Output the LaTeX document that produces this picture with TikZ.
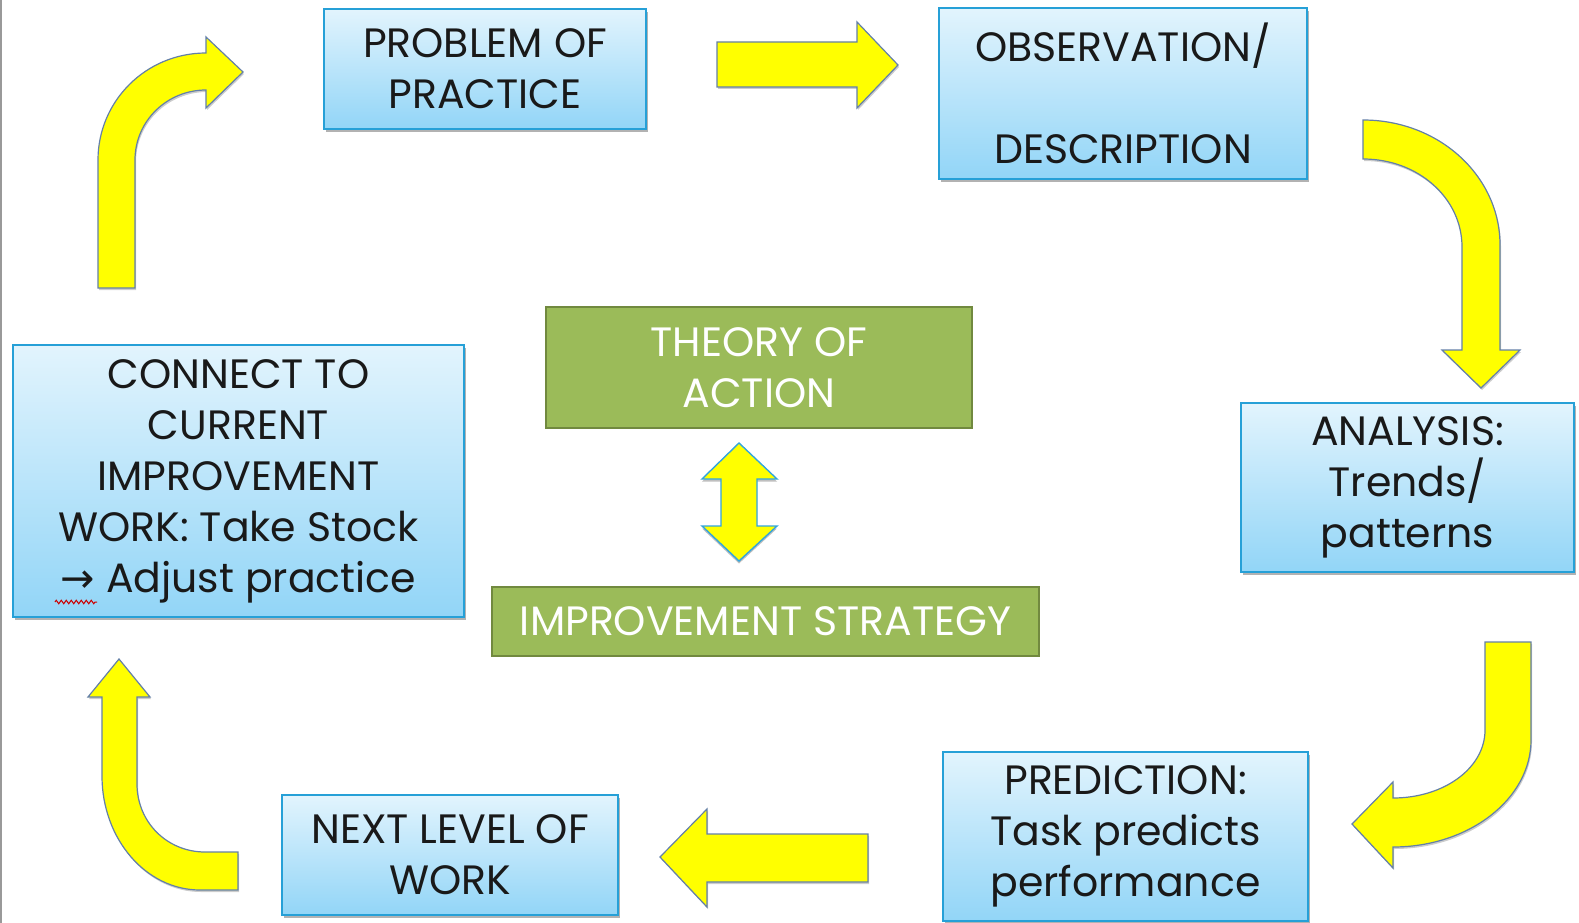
\documentclass[tikz,border=0pt]{standalone}
\usepackage{fontspec}
\setmainfont{Poppins}
\newfontfamily\arrowfont{DejaVu Sans}
\usetikzlibrary{shadows,decorations.pathmorphing}
\definecolor{boxline}{RGB}{38,160,215}
\definecolor{boxtop}{RGB}{226,244,253}
\definecolor{boxbot}{RGB}{146,213,247}
\definecolor{greenfill}{RGB}{155,187,89}
\definecolor{greenline}{RGB}{113,137,63}
\definecolor{arrowline}{RGB}{100,128,168}
\definecolor{dblline}{RGB}{50,165,220}
\definecolor{textblack}{RGB}{25,25,25}
\definecolor{arrowyellow}{RGB}{255,255,0}
\tikzset{
  bluebox/.style={draw=boxline, line width=1.6pt, top color=boxtop, bottom color=boxbot,
    align=center, inner sep=0pt, text=textblack, font=\fontsize{41}{51}\selectfont,
    drop shadow={shadow xshift=1.5pt, shadow yshift=-3pt, opacity=0.3, fill=black}},
  greenbox/.style={draw=greenline, line width=2.4pt, fill=greenfill, text=white,
    align=center, inner sep=0pt, font=\fontsize{41}{51}\selectfont},
  yarrow/.style={fill=arrowyellow, draw=arrowline, line width=1.2pt, line join=miter,
    drop shadow={shadow xshift=1pt, shadow yshift=-2pt, opacity=0.2, fill=black}},
  dblarrow/.style={fill=arrowyellow, draw=dblline, line width=1.4pt, line join=miter,
    drop shadow={shadow xshift=0pt, shadow yshift=-2.5pt, opacity=0.25, fill=black}},
  squiggle/.style={draw=red!80!black, line width=1pt, decorate,
    decoration={zigzag, segment length=5pt, amplitude=1.8pt}},
}
\begin{document}
\begin{tikzpicture}[x=1pt,y=-1pt]
\useasboundingbox (0,0) rectangle (1579,923);
\fill[white] (0,0) rectangle (1579,923);
\draw[gray!80, line width=2pt] (1,0) -- (1,923);

% boxes
\node[bluebox, minimum width=322pt, minimum height=120pt] (prob) at (485,69) {PROBLEM OF\\PRACTICE};
\node[bluebox, minimum width=368pt, minimum height=171pt] (obs) at (1123,93.5) {OBSERVATION/\\\mbox{}\\DESCRIPTION};
\node[greenbox, minimum width=426pt, minimum height=121pt] (theory) at (759,367.5) {THEORY OF\\ACTION};
\node[greenbox, minimum width=547pt, minimum height=69pt] (strat) at (765.5,621.5) {IMPROVEMENT STRATEGY};
\node[bluebox, minimum width=451pt, minimum height=272pt] (conn) at (238.5,481) {CONNECT TO\\CURRENT\\IMPROVEMENT\\WORK: Take Stock\\{\arrowfont →} Adjust practice};
\node[bluebox, minimum width=333pt, minimum height=169pt] (ana) at (1407.5,487.5) {ANALYSIS:\\Trends/\\patterns};
\node[bluebox, minimum width=365pt, minimum height=169pt] (pred) at (1125.5,836.5) {PREDICTION:\\Task predicts\\performance};
\node[bluebox, minimum width=336pt, minimum height=120pt] (next) at (450,855) {NEXT LEVEL OF\\WORK};

% spell-check squiggle
\coordinate (sqa) at (55,602);
\coordinate (sqb) at (97,602);
\draw[squiggle] (sqa) -- (sqb);

% arrow: connect -> problem (bent up-right)
\draw[yarrow] (98,288) -- (98,160) .. controls (98,101) and (146,53) .. (206,53)
  -- (206,37) -- (243,72) -- (206,108) -- (206,90)
  .. controls (167,90) and (135,121) .. (135,160) -- (135,288) -- cycle;

% arrow: problem -> observation
\draw[yarrow] (717,42) -- (857,42) -- (857,22) -- (898,65) -- (857,108) -- (857,87) -- (717,87) -- cycle;

% arrow: observation -> analysis (bent down)
\draw[yarrow] (1363,120) .. controls (1439,120) and (1500,176) .. (1500,245)
  -- (1500,350) -- (1520,350) -- (1481,388) -- (1442,350) -- (1462,350)
  -- (1462,247) .. controls (1462,198) and (1418,159) .. (1363,159) -- cycle;

% arrow: analysis -> prediction (bent down-left)
\draw[yarrow] (1485,642) -- (1531,642) -- (1531,740)
  .. controls (1531,799) and (1469,847) .. (1393,847)
  -- (1393,868) -- (1352,824) -- (1393,782) -- (1393,798)
  .. controls (1444,798) and (1485,768) .. (1485,730) -- cycle;

% arrow: prediction -> next level
\draw[yarrow] (868,834) -- (707,834) -- (707,809) -- (660,857) -- (707,907) -- (707,882) -- (868,882) -- cycle;

% arrow: next level -> connect (bent up)
\draw[yarrow] (238,852) -- (205,852) .. controls (167,852) and (137,822) .. (137,784)
  -- (137,697) -- (150,697) -- (119,659) -- (88,697) -- (102,697) -- (102,776)
  .. controls (102,839) and (146,890) .. (200,890) -- (238,890) -- cycle;

% double arrow theory <-> strategy
\draw[dblarrow] (739,443) -- (777,479) -- (757,479) -- (757,526) -- (777,526) -- (739,561)
  -- (702,526) -- (721,526) -- (721,479) -- (702,479) -- cycle;
\end{tikzpicture}
\end{document}
